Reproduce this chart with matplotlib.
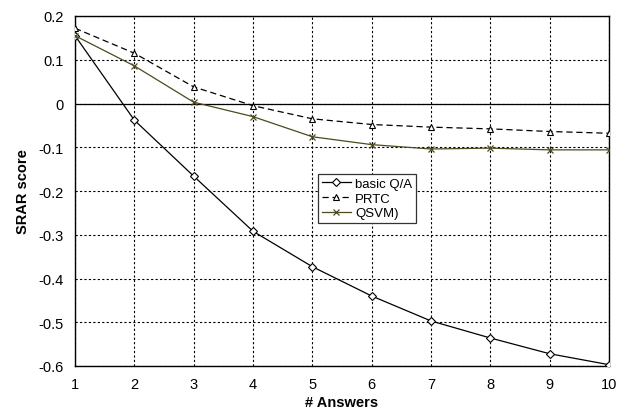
import matplotlib
matplotlib.use('Agg')
import matplotlib.pyplot as plt

# Data
answers = [1, 2, 3, 4, 5, 6, 7, 8, 9, 10]
basicQA = [0.155, -0.038, -0.166, -0.292, -0.373, -0.440, -0.497, -0.536, -0.572, -0.597]
prtc    = [0.172, 0.115, 0.038, -0.005, -0.035, -0.048, -0.054, -0.058, -0.064, -0.068]
qsvm    = [0.155, 0.086, 0.003, -0.030, -0.076, -0.094, -0.104, -0.102, -0.106, -0.106]
yticks  = [0.2, 0.1, 0, -0.1, -0.2, -0.3, -0.4, -0.5, -0.6]
ylabels = ['0.2', '0.1', '0', '-0.1', '-0.2', '-0.3', '-0.4', '-0.5', '-0.6']

plt.rcParams['font.family'] = ['Liberation Sans', 'DejaVu Sans']

fig = plt.figure(figsize=(6.17, 4.14), dpi=100)
ax = fig.add_axes([75/617, 47/414, 534/617, 350/414])

ax.axhline(0, color='black', lw=0.9, zorder=1)
ax.plot(answers, basicQA, color='black', lw=0.9, marker='D', ms=4,
        mfc='white', mec='black', mew=0.8, label='basic Q/A', zorder=3)
ax.plot(answers, prtc, color='black', lw=0.9, ls=(0, (5, 3)), marker='^', ms=5,
        mfc='white', mec='black', mew=0.8, label='PRTC', zorder=3)
ax.plot(answers, qsvm, color='#4d4a1e', lw=0.9, marker='x', ms=5,
        mec='#4d4a1e', mew=0.9, label='QSVM)', zorder=3)

ax.set_xlim(1, 10)
ax.set_ylim(-0.6, 0.2)
ax.set_xticks(answers)
ax.set_yticks(yticks, ylabels)
ax.tick_params(length=0, labelsize=10.5, pad=8)
ax.grid(True, color='black', ls=(0, (2, 2)), lw=0.8)
for s in ax.spines.values():
    s.set_linewidth(1.0)
    s.set_color('black')

ax.set_xlabel('# Answers', fontsize=10.5, fontweight='bold', labelpad=3)
ax.set_ylabel('SRAR score', fontsize=10.5, fontweight='bold', labelpad=6)

leg = ax.legend(loc='upper left', bbox_to_anchor=(0.455, 0.55), fontsize=9.5,
                fancybox=False, edgecolor='#333333', framealpha=1,
                handlelength=2.2, handletextpad=0.3, borderpad=0.3,
                labelspacing=0.2, borderaxespad=0)
leg.get_frame().set_linewidth(0.9)

fig.savefig('out.png', dpi=100)
